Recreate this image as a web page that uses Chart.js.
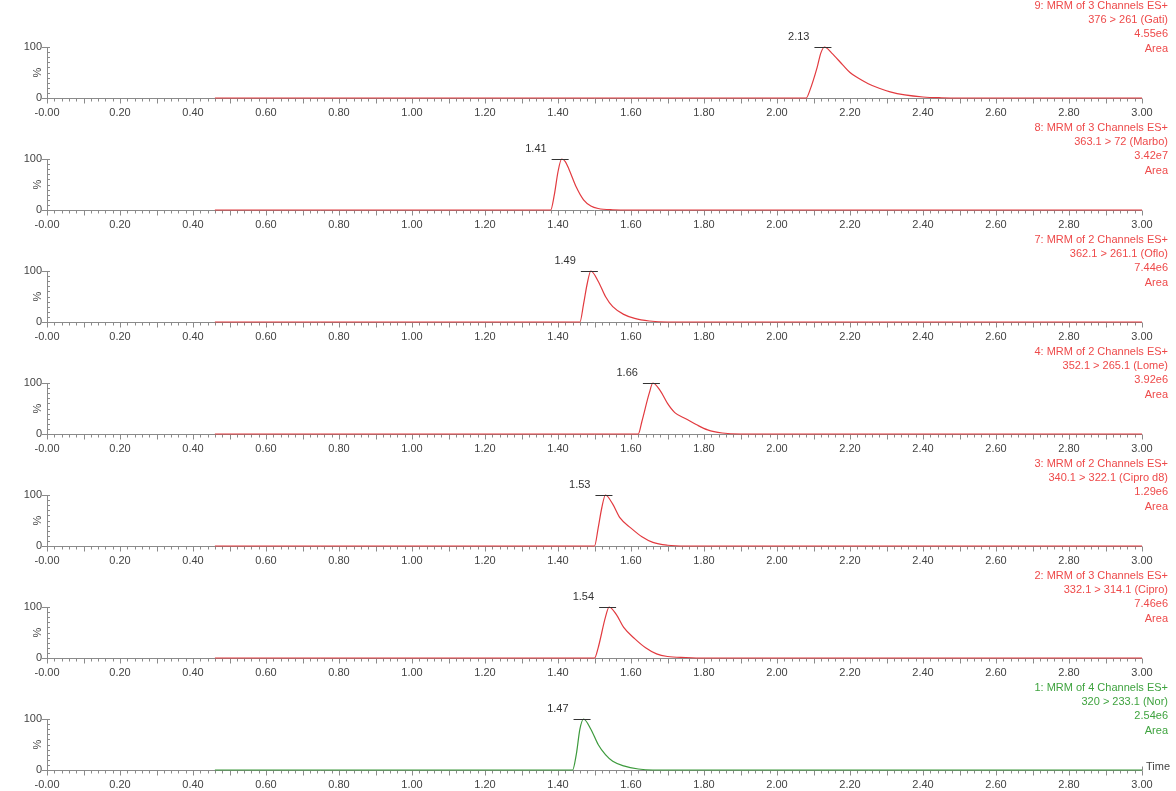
<!DOCTYPE html>
<html>
<head>
<meta charset="utf-8">
<script src="https://cdn.jsdelivr.net/npm/chart.js@4"></script>
<style>
  body { margin: 0; background: #fff; width: 1176px; height: 791px; overflow: hidden; position: relative; }
  .panel { position: absolute; left: 0; width: 1176px; height: 130px; }
</style>
</head>
<body>
<div id="wrap"></div>
<script>
// x axis
const tickValues = [0, 0.2, 0.4, 0.6, 0.8, 1.0, 1.2, 1.4, 1.6, 1.8, 2.0, 2.2, 2.4, 2.6, 2.8, 3.0];
const tickLabels = ['-0.00', '0.20', '0.40', '0.60', '0.80', '1.00', '1.20', '1.40', '1.60', '1.80', '2.00', '2.20', '2.40', '2.60', '2.80', '3.00'];

// channel headers (top to bottom)
const headerLines = ['9: MRM of 3 Channels ES+', '8: MRM of 3 Channels ES+', '7: MRM of 2 Channels ES+', '4: MRM of 2 Channels ES+', '3: MRM of 2 Channels ES+', '2: MRM of 3 Channels ES+', '1: MRM of 4 Channels ES+'];
const transitions = ['376 > 261 (Gati)', '363.1 > 72 (Marbo)', '362.1 > 261.1 (Oflo)', '352.1 > 265.1 (Lome)', '340.1 > 322.1 (Cipro d8)', '332.1 > 314.1 (Cipro)', '320 > 233.1 (Nor)'];
const areas = ['4.55e6', '3.42e7', '7.44e6', '3.92e6', '1.29e6', '7.46e6', '2.54e6'];
const peakTimes = [2.13, 1.41, 1.49, 1.66, 1.53, 1.54, 1.47];

// traces: retention time (min) and relative intensity (%)
const gatiT = [0.46, 2.08, 2.09, 2.11, 2.12, 2.13, 2.15, 2.18, 2.20, 2.22, 2.25, 2.28, 2.31, 2.35, 2.40, 2.45, 2.50, 3.00];
const gatiY = [0, 0, 15, 60, 88, 100, 88, 65, 50, 40, 28, 19, 12, 6, 2, 0.5, 0, 0];

const marboT = [0.46, 1.38, 1.39, 1.40, 1.41, 1.42, 1.43, 1.45, 1.47, 1.49, 1.51, 1.55, 1.60, 3.00];
const marboY = [0, 0, 30, 75, 100, 95, 80, 45, 20, 8, 3, 0.5, 0, 0];

const ofloT = [0.46, 1.46, 1.47, 1.48, 1.49, 1.51, 1.53, 1.55, 1.58, 1.61, 1.65, 1.70, 3.00];
const ofloY = [0, 0, 35, 75, 100, 80, 50, 30, 15, 7, 2, 0, 0];

const lomeT = [0.46, 1.62, 1.63, 1.65, 1.66, 1.68, 1.70, 1.72, 1.75, 1.78, 1.81, 1.85, 1.90, 3.00];
const lomeY = [0, 0, 25, 80, 100, 85, 60, 42, 30, 18, 8, 2, 0, 0];

const ciproD8T = [0.46, 1.50, 1.51, 1.52, 1.53, 1.55, 1.57, 1.60, 1.63, 1.66, 1.70, 1.75, 3.00];
const ciproD8Y = [0, 0, 35, 75, 100, 82, 55, 35, 18, 7, 1.5, 0, 0];

const ciproT = [0.46, 1.50, 1.51, 1.53, 1.54, 1.56, 1.58, 1.61, 1.64, 1.67, 1.70, 1.75, 1.80, 3.00];
const ciproY = [0, 0, 20, 80, 100, 85, 60, 38, 20, 8, 3, 1, 0, 0];

const norT = [0.46, 1.44, 1.45, 1.46, 1.47, 1.49, 1.51, 1.53, 1.55, 1.58, 1.62, 1.66, 3.00];
const norY = [0, 0, 30, 80, 100, 80, 50, 30, 17, 8, 2, 0, 0];

const traceTimes = [gatiT, marboT, ofloT, lomeT, ciproD8T, ciproT, norT];
const traceValues = [gatiY, marboY, ofloY, lomeY, ciproD8Y, ciproY, norY];

const RED_LINE = '#e23a3f';
const RED_TEXT = '#ee4a4a';
const GREEN_LINE = '#3c9a3c';
const GREEN_TEXT = '#3fa33f';
const AXIS = '#8a8a8a';
const FONT = '11px "Liberation Sans", Arial, sans-serif';

const panelPlugin = {
    id: 'panelDecor',
    // axes go under the trace so the coloured baseline shows on top
    beforeDatasetsDraw(chart, args, opts) {
        const ctx = chart.ctx;
        const x = chart.scales.x;
        const y = chart.scales.y;
        const x0 = x.getPixelForValue(0);
        const x1 = x.getPixelForValue(3);
        const yb = y.getPixelForValue(0);
        const yt = y.getPixelForValue(100);
        ctx.save();
        ctx.lineWidth = 1;
        ctx.strokeStyle = AXIS;
        ctx.beginPath();
        ctx.moveTo(x0 + 0.5, yt);
        ctx.lineTo(x0 + 0.5, yb);
        for (let v = 0; v <= 100; v += 10) {
            const py = Math.round(y.getPixelForValue(v)) + 0.5;
            if (v === 0 || v === 100) {
                ctx.moveTo(x0 - 5, py);
                ctx.lineTo(x0 + 3, py);
            } else {
                ctx.moveTo(x0, py);
                ctx.lineTo(x0 + 3, py);
            }
        }
        const by = Math.round(yb) + 0.5;
        ctx.moveTo(x0, by);
        ctx.lineTo(x1, by);
        for (let k = 0; k <= 150; k++) {
            const px = Math.round(x.getPixelForValue(k * 0.02)) + 0.5;
            const len = (k % 5 === 0) ? 5 : 3;
            ctx.moveTo(px, by);
            ctx.lineTo(px, by + len);
        }
        if (opts.last) {
            ctx.moveTo(x1 + 0.5, by);
            ctx.lineTo(x1 + 0.5, by - 4);
        }
        ctx.stroke();
        ctx.restore();
    },
    afterDraw(chart, args, opts) {
        const ctx = chart.ctx;
        const x = chart.scales.x;
        const y = chart.scales.y;
        const x0 = x.getPixelForValue(0);
        const x1 = x.getPixelForValue(3);
        const yb = y.getPixelForValue(0);
        const yt = y.getPixelForValue(100);
        const by = Math.round(yb) + 0.5;
        ctx.save();

        ctx.font = FONT;
        ctx.fillStyle = '#444';
        ctx.textAlign = 'center';
        ctx.textBaseline = 'middle';
        tickValues.forEach((v, i) => {
            ctx.fillText(tickLabels[i], x.getPixelForValue(v), yb + 15);
        });
        ctx.textAlign = 'right';
        ctx.fillText('100', x0 - 5, yt);
        ctx.fillText('0', x0 - 5, yb);
        ctx.save();
        ctx.translate(x0 - 9, (yt + yb) / 2);
        ctx.rotate(-Math.PI / 2);
        ctx.textAlign = 'center';
        ctx.fillText('%', 0, 0);
        ctx.restore();
        if (opts.last) {
            ctx.textAlign = 'left';
            ctx.fillText('Time', x1 + 4, by - 4);
        }

        // peak apex marker + label
        const apx = x.getPixelForValue(opts.peak);
        const apy = Math.round(yt) + 0.5;
        ctx.strokeStyle = '#333';
        ctx.lineWidth = 1;
        ctx.beginPath();
        ctx.moveTo(apx - 10, apy);
        ctx.lineTo(apx + 7, apy);
        ctx.stroke();
        ctx.fillStyle = '#333';
        ctx.textAlign = 'right';
        ctx.fillText(opts.peak.toFixed(2), apx - 15, yt - 10);

        // header block
        ctx.fillStyle = opts.textColor;
        const top = opts.headerTop;
        const lines = [opts.header, opts.transition, opts.area, 'Area'];
        lines.forEach((s, i) => ctx.fillText(s, 1168, top + i * 14.2));
        ctx.restore();
    }
};

const wrap = document.getElementById('wrap');
for (let i = 0; i < 7; i++) {
    const div = document.createElement('div');
    div.className = 'panel';
    div.style.top = (i * 112) + 'px';
    const canvas = document.createElement('canvas');
    canvas.width = 1176;
    canvas.height = 130;
    div.appendChild(canvas);
    wrap.appendChild(div);

    const isLast = i === 6;
    const pts = traceTimes[i].map((t, k) => ({ x: t, y: traceValues[i][k] }));

    new Chart(canvas.getContext('2d'), {
        type: 'line',
        data: {
            datasets: [{
                data: pts,
                borderColor: isLast ? GREEN_LINE : RED_LINE,
                borderWidth: 1.2,
                pointRadius: 0,
                cubicInterpolationMode: 'monotone',
                fill: false
            }]
        },
        options: {
            responsive: false,
            animation: false,
            clip: false,
            layout: { padding: { left: 47, right: 34, top: 47, bottom: 32 } },
            scales: {
                x: { type: 'linear', min: 0, max: 3, display: false },
                y: { min: 0, max: 100, display: false }
            },
            plugins: {
                legend: { display: false },
                tooltip: { enabled: false },
                panelDecor: {
                    peak: peakTimes[i],
                    header: headerLines[i],
                    transition: transitions[i],
                    area: areas[i],
                    textColor: isLast ? GREEN_TEXT : RED_TEXT,
                    headerTop: i === 0 ? 6 : 16,
                    last: isLast
                }
            }
        },
        plugins: [panelPlugin]
    });
}
</script>
</body>
</html>
